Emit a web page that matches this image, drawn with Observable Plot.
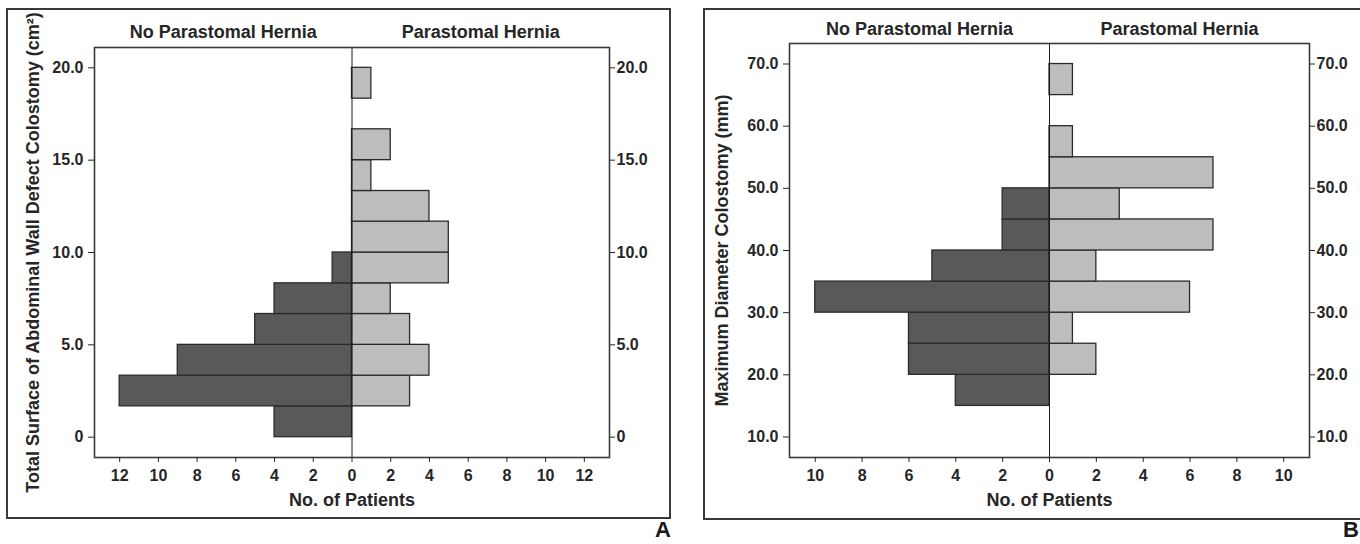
<!DOCTYPE html>
<html><head><meta charset="utf-8">
<script src="https://cdn.jsdelivr.net/npm/d3@7"></script>
<script src="https://cdn.jsdelivr.net/npm/@observablehq/plot@0.6"></script>
<style>
body{margin:0;background:#fff;}
#wrap{position:relative;width:1360px;height:544px;overflow:hidden;background:#fff;font-family:"Liberation Sans",Arial,sans-serif;}
.box{position:absolute;border:2px solid #3a3a3a;box-sizing:border-box;}
.panel{position:absolute;top:0;}
.tag{position:absolute;font-weight:bold;font-size:22px;line-height:16px;height:16px;color:#1a1a1a;}
</style></head><body>
<div id="wrap">
  <div class="box" style="left:6px;top:8px;width:665px;height:511px"></div>
  <div class="box" style="left:703px;top:8px;width:720px;height:512px"></div>
  <div class="panel" id="pa" style="left:0px"></div>
  <div class="panel" id="pb" style="left:680px"></div>
  <div class="tag" style="left:655px;top:522px">A</div>
  <div class="tag" style="left:1343px;top:522px">B</div>
</div>
<script>
const groups = ["No Parastomal Hernia", "Parastomal Hernia"];
const xTitle = "No. of Patients";

// Panel A
const binLowA  = [0, 1.67, 3.33, 5, 6.67, 8.33, 10, 11.67, 13.33, 15, 16.67, 18.33];
const binHighA = [1.67, 3.33, 5, 6.67, 8.33, 10, 11.67, 13.33, 15, 16.67, 18.33, 20];
const noHerniaA = [4, 12, 9, 5, 4, 1, 0, 0, 0, 0, 0, 0];
const herniaA   = [0, 3, 4, 3, 2, 5, 5, 4, 1, 2, 0, 1];
const yTicksA = [0, 5, 10, 15, 20];
const xTicksA = [-12, -10, -8, -6, -4, -2, 0, 2, 4, 6, 8, 10, 12];
const yTitleA = "Total Surface of Abdominal Wall Defect Colostomy (cm²)";

// Panel B
const binLowB  = [15, 20, 25, 30, 35, 40, 45, 50, 55, 60, 65];
const binHighB = [20, 25, 30, 35, 40, 45, 50, 55, 60, 65, 70];
const noHerniaB = [4, 6, 6, 10, 5, 2, 2, 0, 0, 0, 0];
const herniaB   = [0, 2, 1, 6, 2, 7, 3, 7, 1, 0, 1];
const yTicksB = [10, 20, 30, 40, 50, 60, 70];
const xTicksB = [-10, -8, -6, -4, -2, 0, 2, 4, 6, 8, 10];
const yTitleB = "Maximum Diameter Colostomy (mm)";

const FONT = "'Liberation Sans', Arial, Helvetica, sans-serif";
const DARK = "#58595b", LIGHT = "#bcbdbf";

function rowsOf(lo, hi, noH, h) {
  const rows = [];
  lo.forEach((l, i) => {
    if (noH[i] > 0) rows.push({y1: l, y2: hi[i], x1: 0, x2: -noH[i], g: 0});
    if (h[i] > 0) rows.push({y1: l, y2: hi[i], x1: 0, x2: h[i], g: 1});
  });
  return rows;
}

function panel(cfg) {
  const fmt = d => d === 0 ? "0" : d.toFixed(1);
  const txt = {textAnchor: "middle", lineAnchor: "middle", fontSize: 18};
  return Plot.plot({
    width: 680, height: 544,
    marginLeft: cfg.ml, marginRight: cfg.mr, marginTop: cfg.mt, marginBottom: cfg.mb,
    x: {domain: cfg.xDomain},
    y: {domain: cfg.yDomain},
    style: {fontFamily: FONT, fontWeight: "bold", fontSize: "16px", color: "#262626", background: "transparent", overflow: "visible"},
    marks: [
      Plot.rect(cfg.rows, {x1: "x1", x2: "x2", y1: "y1", y2: "y2",
        fill: d => d.g === 0 ? DARK : LIGHT, stroke: "#2b2b2b", strokeWidth: 1.3}),
      Plot.ruleX([0], {stroke: "#1a1a1a", strokeWidth: 1}),
      Plot.frame({stroke: "#3a3a3a", strokeWidth: 1.6}),
      Plot.axisX({ticks: cfg.xTicks, tickFormat: d => Math.abs(d), tickSize: 5, tickPadding: 7, label: null, fontSize: 16}),
      Plot.axisY({anchor: "left", ticks: cfg.yTicks, tickFormat: fmt, tickSize: 6, tickPadding: 5, label: null, fontSize: 16}),
      Plot.axisY({anchor: "right", ticks: cfg.yTicks, tickFormat: fmt, tickSize: 5, tickPadding: 2, label: null, fontSize: 16}),
      Plot.text([groups[0]], {...txt, x: cfg.xDomain[0] / 2, frameAnchor: "top", dy: cfg.hdy}),
      Plot.text([groups[1]], {...txt, x: cfg.xDomain[1] / 2, frameAnchor: "top", dy: cfg.hdy}),
      Plot.text([xTitle], {...txt, x: 0, frameAnchor: "bottom", dy: 43}),
      Plot.text([cfg.yTitle], {...txt, frameAnchor: "left", rotate: -90, dx: cfg.tdx})
    ]
  });
}

document.getElementById("pa").append(panel({
  rows: rowsOf(binLowA, binHighA, noHerniaA, herniaA),
  ml: 94, mr: 71, mt: 47, mb: 87,
  xDomain: [-13.3, 13.3], yDomain: [-1.1, 21.1],
  xTicks: xTicksA, yTicks: yTicksA, yTitle: yTitleA, hdy: -15, tdx: -61
}));

document.getElementById("pb").append(panel({
  rows: rowsOf(binLowB, binHighB, noHerniaB, herniaB),
  ml: 109, mr: 51, mt: 43, mb: 87,
  xDomain: [-11.1, 11.1], yDomain: [6.7, 73.3],
  xTicks: xTicksB, yTicks: yTicksB, yTitle: yTitleB, hdy: -14, tdx: -67
}));
</script>
</body></html>
